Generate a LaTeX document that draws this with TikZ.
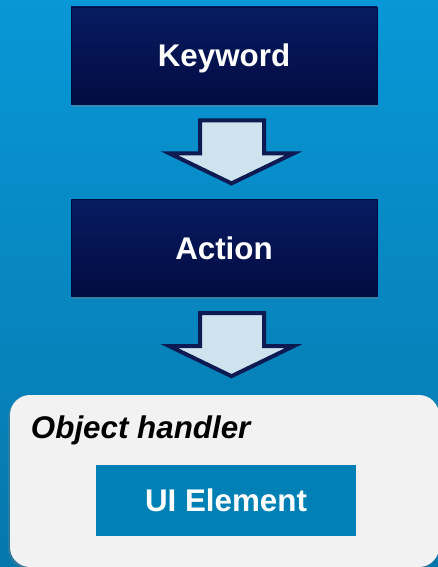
\documentclass[tikz,border=0pt]{standalone}
\usepackage{fontspec}
\setmainfont{Liberation Sans}
\usetikzlibrary{positioning,calc,shadows}
\definecolor{bgtop}{HTML}{0897D7}
\definecolor{bgbot}{HTML}{0677AB}
\definecolor{navytop}{HTML}{071B60}
\definecolor{navybot}{HTML}{030C42}
\definecolor{arrfill}{HTML}{CDE4EE}
\definecolor{arrline}{HTML}{0E1A52}
\definecolor{uiblue}{HTML}{0080B4}
\definecolor{panelgray}{HTML}{F2F2F2}
\newcommand{\blockarr}[1]{%
\draw[blockarrow,shift={(#1)}] (-24,16) -- (40,16) -- (40,49) -- (69.5,49) -- (7.5,79) -- (-54.5,49) -- (-24,49) -- cycle;}

\begin{document}
\begin{tikzpicture}[x=0.75pt,y=-0.75pt,node distance=71.25pt,
  bigfont/.style={font=\fontsize{23.5pt}{28pt}\selectfont\bfseries},
  box/.style={bigfont,draw=navybot,line width=0.6pt,top color=navytop,bottom color=navybot,
    minimum width=229.5pt,minimum height=72.75pt,text=white,text height=16.8pt,text depth=0pt,
    drop shadow={shadow xshift=1pt,shadow yshift=-2pt,opacity=0.35}},
  panelbox/.style={fill=panelgray,rounded corners=15pt,minimum width=321.75pt,minimum height=129pt,
    drop shadow={shadow xshift=-1.5pt,shadow yshift=-1.5pt,opacity=0.3}},
  uibox/.style={bigfont,fill=uiblue,text=white,minimum width=195pt,minimum height=53.25pt,
    text height=16.8pt,text depth=0pt},
  paneltitle/.style={bigfont,font=\fontsize{23.5pt}{28pt}\selectfont\bfseries\itshape,inner sep=0pt},
  blockarrow/.style={fill=arrfill,draw=arrline,line width=3pt,line join=miter,miter limit=10}]

\shade[top color=bgtop,bottom color=bgbot] (0,0) rectangle (438,567);
\useasboundingbox (0,0) rectangle (438,567);

\node[box]   (kw)  at (224,55.5)  {Keyword};
\node[box]   (act) [below=of kw]  {Action};
\node[panelbox] (oh) at (224.5,481) {};
\node[paneltitle,anchor=base west] (ohtitle) at ($(oh.north west)+(21,44)$) {Object handler};
\node[uibox] (ui)  at (226,500.5) {UI Element};

\blockarr{kw.south}
\blockarr{act.south}

\end{tikzpicture}
\end{document}
